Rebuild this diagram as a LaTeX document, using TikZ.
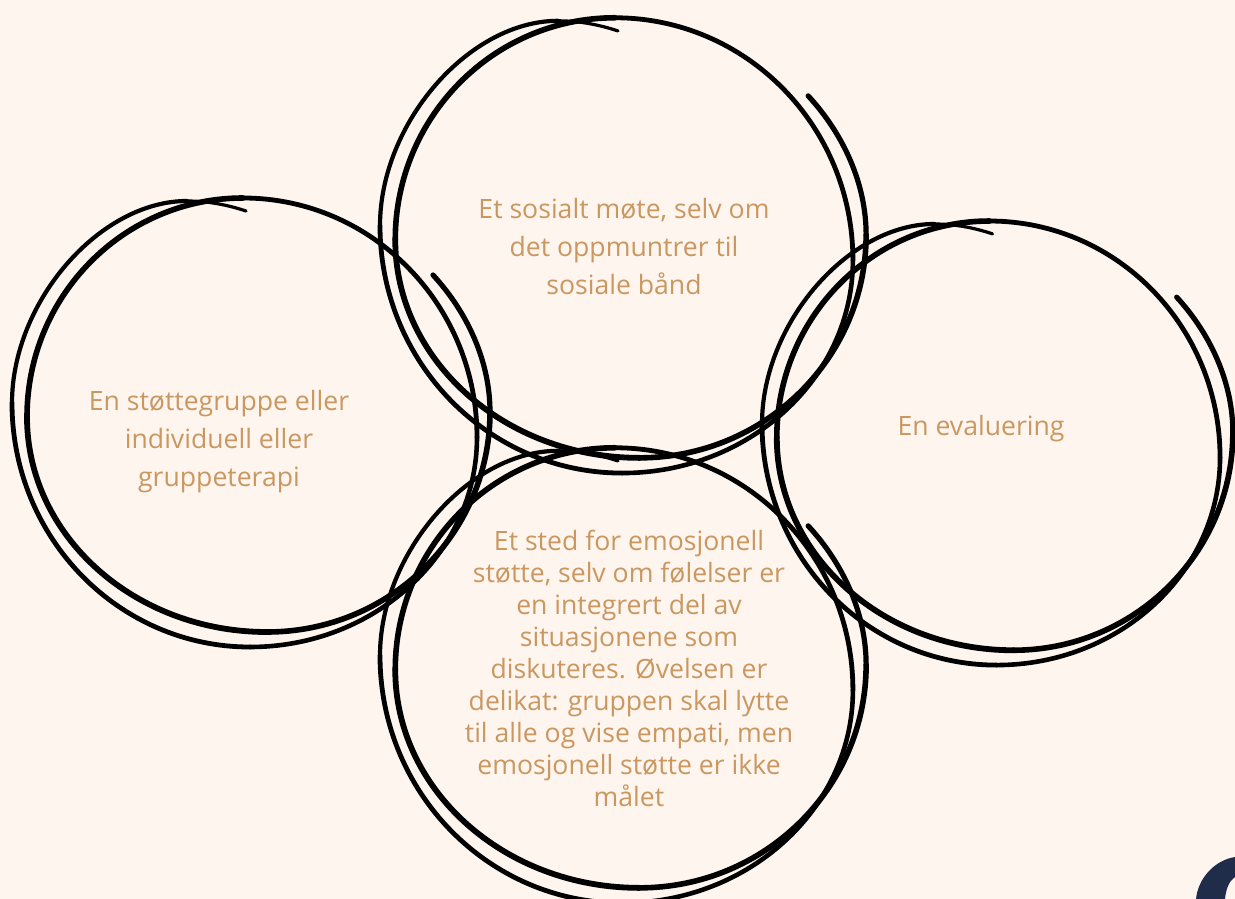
\documentclass[tikz,border=0pt]{standalone}
\usepackage{fontspec}
\setmainfont{Open Sans}
\definecolor{paper}{HTML}{FFF5EF}
\definecolor{ochre}{HTML}{C9975F}
\definecolor{navy}{HTML}{1F2D4A}
\tikzset{
 loosetext/.style={text=ochre,align=center,font=\fontsize{26.6}{38}\selectfont},
 tighttext/.style={text=ochre,align=center,font=\fontsize{26.6}{32}\selectfont},
 pen/.style={black,line cap=round,line join=round}
}
\newcommand{\scribble}[4]{
 \begin{scope}[shift={(#1,#2)},xscale=#3,yscale=#4]
 \draw[pen,line width=5.2](433,275) .. controls (468,313) and (490,362) .. (490,412);
 \draw[pen,line width=5.6](490,412) .. controls (490,533.5) and (390.2,632) .. (267,632);
 \draw[pen,line width=5.8](267,632) .. controls (134.4,632) and (27,535.7) .. (27,417);
 \draw[pen,line width=5.6](27,417) .. controls (27,296) and (123.7,198) .. (243,198);
 \draw[pen,line width=4.8](243,198) .. controls (372.2,198) and (477,305) .. (477,437);
 \draw[pen,line width=4.6](477,437) .. controls (477,553) and (375.4,647) .. (250,647);
 \draw[pen,line width=4.8](250,647) .. controls (118.6,647) and (12,537.8) .. (12,403);
 \draw[pen,line width=4.2](12,403) .. controls (12,302) and (99.5,201) .. (187,201);
 \draw[pen,line width=3.2](187,201) .. controls (208,201) and (228,205) .. (246,211);
 \end{scope}
}
\begin{document}
\begin{tikzpicture}[x=1pt,y=-1pt]
 \useasboundingbox (0,0) rectangle (1235,899);
 \clip (0,0) rectangle (1235,899);
 \fill[paper] (0,0) rectangle (1235,899);
 % corner
 \fill[navy] (1196,899) .. controls (1198,878) and (1215,860) .. (1235,857) -- (1235,877) .. controls (1229,881) and (1226,889) .. (1225,899) -- cycle;
 % circles
 \scribble{0}{0}{1}{1}
 \scribble{367.8}{-183}{1.017}{1.014}
 \scribble{367.8}{247}{1.017}{1.014}
 \scribble{750.2}{25.2}{.985}{.989}
 % labels
 \node[loosetext] (sosialt) at (624,247) {Et sosialt møte, selv om\\det oppmuntrer til\\sosiale bånd};
 \node[loosetext] (terapi) at (219,442) {En støttegruppe eller\\individuell eller\\gruppeterapi};
 \node[loosetext] (evaluering) at (981,429) {En evaluering};
 \node[tighttext] (emosjonell) at (629,668) {Et sted for emosjonell\\støtte, selv om følelser er\\en integrert del av\\situasjonene som\\diskuteres. Øvelsen er\\delikat: gruppen skal lytte\\til alle og vise empati, men\\emosjonell støtte er ikke\\målet};
\end{tikzpicture}
\end{document}
